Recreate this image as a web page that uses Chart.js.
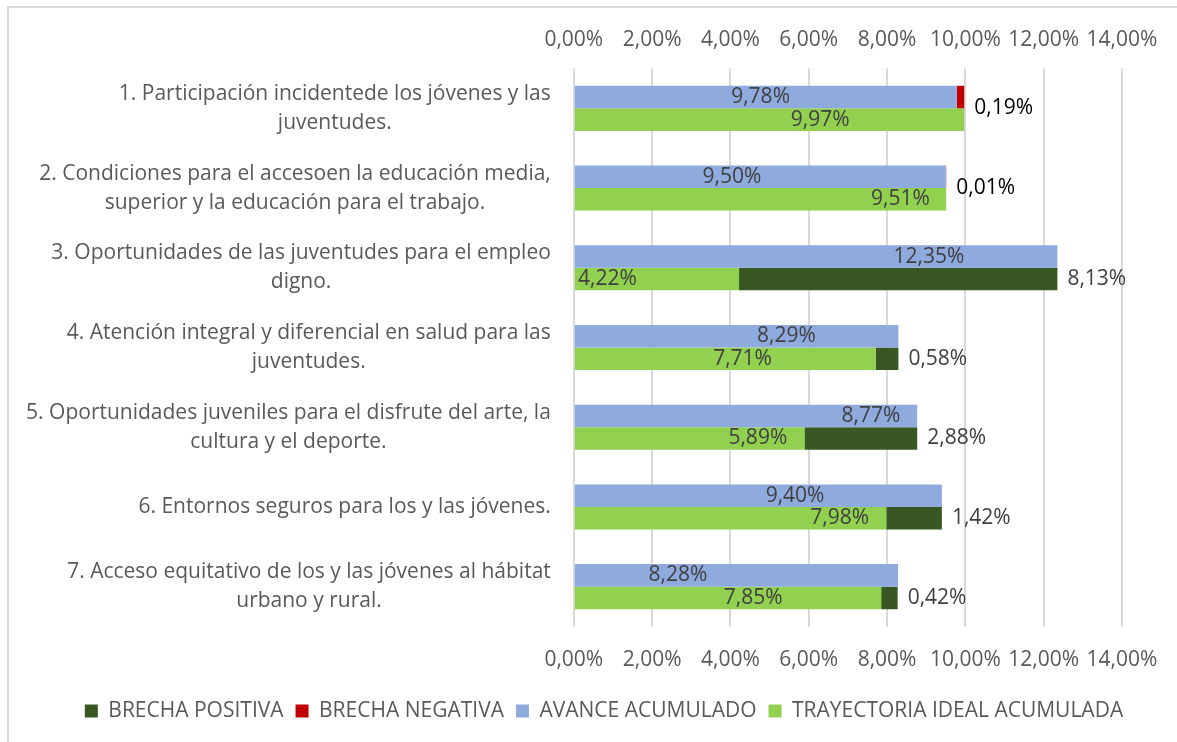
<!DOCTYPE html>
<html>
<head>
<meta charset="utf-8">
<script src="https://cdn.jsdelivr.net/npm/chart.js"></script>
<style>
  body { margin: 0; background: #ffffff; }
  #wrap { width: 1177px; height: 742px; }
</style>
</head>
<body>
<div id="wrap"><canvas id="chart" width="1177" height="742"></canvas></div>
<script>
// category labels, one array of lines per row
const categories = [
    ['1. Participación incidentede los jóvenes y las', 'juventudes.'],
    ['2. Condiciones para el accesoen la educación media,', 'superior y la educación para el trabajo.'],
    ['3. Oportunidades de las juventudes para el empleo', 'digno.'],
    ['4. Atención integral y diferencial en salud para las', 'juventudes.'],
    ['5. Oportunidades juveniles para el disfrute del arte, la', 'cultura y el deporte.'],
    ['6. Entornos seguros para los y las jóvenes.'],
    ['7. Acceso equitativo de los y las jóvenes al hábitat', 'urbano y rural.']
];

// values in %
const avance = [9.78, 9.50, 12.35, 8.29, 8.77, 9.40, 8.28];
const ideal = [9.97, 9.51, 4.22, 7.71, 5.89, 7.98, 7.85];
const brechaPositiva = [null, null, 8.13, 0.58, 2.88, 1.42, 0.42];
const brechaNegativa = [0.19, 0.01, null, null, null, null, null];

const xTicks = [0, 2, 4, 6, 8, 10, 12, 14];
const legendOrder = ['BRECHA POSITIVA', 'BRECHA NEGATIVA', 'AVANCE ACUMULADO', 'TRAYECTORIA IDEAL ACUMULADA'];

// where the original placed the value labels inside the bars (in % of the axis)
const avanceLabelAt = [4.77, 4.04, 9.07, 5.43, 7.59, 5.65, 2.66];
const idealLabelAt = [6.29, 8.34, 0.86, 4.31, 4.70, 6.79, 4.58];

const FONT = "'Open Sans', 'Noto Sans', sans-serif";

function pct(v) {
    return v.toFixed(2).replace('.', ',') + '%';
}

// light frame, only top and left edges show in the original
const framePlugin = {
    id: 'frame',
    beforeDraw(chart) {
        const ctx = chart.ctx;
        ctx.save();
        ctx.fillStyle = '#ffffff';
        ctx.fillRect(0, 0, chart.width, chart.height);
        ctx.strokeStyle = '#d9d9d9';
        ctx.lineWidth = 2;
        ctx.beginPath();
        ctx.moveTo(8, chart.height);
        ctx.lineTo(8, 7);
        ctx.lineTo(chart.width, 7);
        ctx.stroke();
        ctx.restore();
    }
};

// category labels: block right aligned, lines centered inside the block
const categoryLabels = {
    id: 'categoryLabels',
    afterDraw(chart) {
        const ctx = chart.ctx;
        const yScale = chart.scales.y;
        const right = chart.chartArea.left - 23;
        const lineH = 29;
        ctx.save();
        ctx.font = '21px ' + FONT;
        ctx.fillStyle = '#595959';
        ctx.textAlign = 'center';
        ctx.textBaseline = 'middle';
        categories.forEach((lines, i) => {
            const y = yScale.getPixelForValue(i);
            const w = Math.max(...lines.map(l => ctx.measureText(l).width));
            const cx = right - w / 2;
            const y0 = y - (lines.length - 1) * lineH / 2;
            lines.forEach((l, k) => ctx.fillText(l, cx, y0 + k * lineH));
        });
        ctx.restore();
    }
};

// value labels
const valueLabels = {
    id: 'valueLabels',
    afterDatasetsDraw(chart) {
        const ctx = chart.ctx;
        const xScale = chart.scales.x;
        const yScale = chart.scales.y;
        ctx.save();
        ctx.font = '21px ' + FONT;
        ctx.textBaseline = 'middle';
        chart.data.datasets.forEach((ds, di) => {
            const meta = chart.getDatasetMeta(di);
            ds.data.forEach((v, i) => {
                if (v === null) return;
                const bar = meta.data[i];
                if (ds.label === 'AVANCE ACUMULADO' || ds.label === 'TRAYECTORIA IDEAL ACUMULADA') {
                    const at = ds.label === 'AVANCE ACUMULADO' ? avanceLabelAt[i] : idealLabelAt[i];
                    ctx.textAlign = 'center';
                    ctx.fillStyle = '#404040';
                    ctx.fillText(pct(v), xScale.getPixelForValue(at), bar.y);
                } else {
                    ctx.textAlign = 'left';
                    const neg = ds.label === 'BRECHA NEGATIVA';
                    ctx.fillStyle = neg ? '#000000' : '#404040';
                    const y = neg ? yScale.getPixelForValue(i) : bar.y;
                    ctx.fillText(pct(v), bar.x + 10, y);
                }
            });
        });
        ctx.restore();
    }
};

const tickOpts = {
    stepSize: 2,
    color: '#595959',
    font: { family: FONT, size: 21 },
    callback: v => xTicks.includes(v) ? pct(v) : ''
};

new Chart(document.getElementById('chart'), {
    type: 'bar',
    data: {
        labels: categories.map(c => c.join(' ')),
        datasets: [
            { label: 'AVANCE ACUMULADO', data: avance, backgroundColor: '#8faadc', stack: 'avance' },
            { label: 'BRECHA NEGATIVA', data: brechaNegativa, backgroundColor: '#c00000', stack: 'avance' },
            { label: 'TRAYECTORIA IDEAL ACUMULADA', data: ideal, backgroundColor: '#92d050', stack: 'ideal' },
            { label: 'BRECHA POSITIVA', data: brechaPositiva, backgroundColor: '#385723', stack: 'ideal' }
        ]
    },
    options: {
        indexAxis: 'y',
        responsive: false,
        animation: false,
        datasets: {
            bar: { categoryPercentage: 0.565, barPercentage: 1, borderWidth: 0 }
        },
        layout: { padding: { left: 31, right: 0, top: 8, bottom: 10.5 } },
        scales: {
            x: {
                type: 'linear',
                position: 'bottom',
                min: 0,
                max: 14,
                stacked: true,
                grid: { color: '#d9d9d9', lineWidth: 2, drawTicks: false },
                border: { display: false },
                ticks: Object.assign({}, tickOpts, { padding: 21 }),
                afterFit(scale) { scale.height = 62; scale.paddingRight = 55; }
            },
            x2: {
                type: 'linear',
                position: 'top',
                min: 0,
                max: 14,
                grid: { display: false, drawTicks: false },
                border: { display: false },
                ticks: Object.assign({}, tickOpts, { padding: 16 }),
                afterFit(scale) { scale.height = 60.5; scale.paddingRight = 55; }
            },
            y: {
                stacked: true,
                grid: { display: false, drawTicks: false },
                border: { display: false },
                ticks: { display: false },
                afterFit(scale) { scale.width = 542.8; }
            }
        },
        plugins: {
            legend: {
                position: 'bottom',
                labels: {
                    boxWidth: 13,
                    boxHeight: 13,
                    padding: 12,
                    color: '#595959',
                    font: { family: FONT, size: 21 },
                    sort: (a, b) => legendOrder.indexOf(a.text) - legendOrder.indexOf(b.text)
                }
            },
            tooltip: { enabled: false }
        }
    },
    plugins: [framePlugin, categoryLabels, valueLabels]
});
</script>
</body>
</html>
